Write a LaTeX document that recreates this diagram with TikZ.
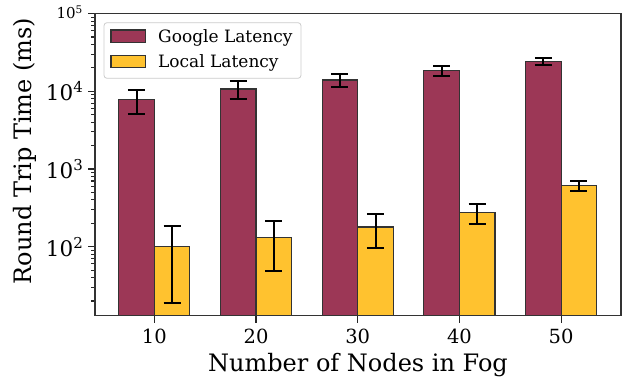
\documentclass[tikz,border=0pt]{standalone}
\usepackage{fontspec}
\setmainfont{DejaVu Serif}
\usetikzlibrary{positioning}
\definecolor{googlered}{RGB}{156,55,86}
\definecolor{localyellow}{RGB}{255,194,47}
\newcommand{\tenpow}[2][15]{10\raisebox{0.37em}{\fontsize{#1}{#1}\selectfont #2}}

\begin{document}
\begin{tikzpicture}[x=1pt,y=1pt]
    \tikzstyle{spine}=[draw=black!80,line width=1.2pt]
    \tikzstyle{tickmark}=[draw=black!85,line width=1.1pt]
    \tikzstyle{googlebar}=[fill=googlered,draw=black!80,line width=1.1pt]
    \tikzstyle{localbar}=[fill=localyellow,draw=black!80,line width=1.1pt]
    \tikzstyle{errbar}=[draw=black,line width=2pt]
    \tikzstyle{ticklabel}=[inner sep=0pt,font=\fontsize{19.5}{19.5}\selectfont]
    \tikzstyle{axislabel}=[inner sep=0pt,font=\fontsize{24}{24}\selectfont]
    \tikzstyle{legendbox}=[draw=black!20,fill=white,fill opacity=0.8,rounded corners=3pt,line width=0.8pt]
    \tikzstyle{legendtext}=[inner sep=0pt,anchor=base west,font=\fontsize{17}{17}\selectfont]
    \useasboundingbox (0,0) rectangle (628,377);
    \begin{scope}[shift={(52.6pt,-25.1pt)},x=101.7pt,y=77.7pt]
        \foreach \i/\g/\glo/\ghi/\l/\llo/\lhi in {1/3.893/3.713/4.013/2.0/1.271/2.262,
                2/4.03/3.906/4.129/2.116/1.691/2.327, 3/4.146/4.055/4.223/2.254/1.983/2.422,
                4/4.266/4.193/4.326/2.444/2.288/2.553, 5/4.382/4.335/4.429/2.786/2.717/2.842}{
            \draw[googlebar] (\i-0.35,1.112) rectangle (\i,\g);
            \draw[localbar] (\i,1.112) rectangle (\i+0.35,\l);
            \draw[errbar] (\i-0.175,\glo) -- (\i-0.175,\ghi)
                (\i-0.259,\glo) -- (\i-0.091,\glo) (\i-0.259,\ghi) -- (\i-0.091,\ghi);
            \draw[errbar] (\i+0.175,\llo) -- (\i+0.175,\lhi)
                (\i+0.091,\llo) -- (\i+0.259,\llo) (\i+0.091,\lhi) -- (\i+0.259,\lhi);
            \draw[tickmark] (\i,1.112) -- ++(0pt,-7pt);
            \pgfmathtruncatemacro\nodes{10*\i}
            \node[ticklabel] (xtick\i) at (\i,1.112) [below=13.5pt] {\nodes};
        }
        \foreach \k in {1,...,4}
            \foreach \m in {2,...,9}
                \draw[tickmark] (0.417,{\k+log10(\m)}) -- ++(-4pt,0pt);
        \foreach \k in {2,3,4,5}
            \draw[tickmark] (0.417,\k) -- ++(-7pt,0pt);
        \foreach \k in {2,3,4}
            \node[ticklabel,font=\fontsize{21.5}{21.5}\selectfont,anchor=base east,xshift=-12pt,yshift=-9.5pt]
                (ytick\k) at (0.417,\k) {\tenpow{\k}};
        \node[ticklabel,font=\fontsize{15}{15}\selectfont,anchor=base east,xshift=-12.5pt,yshift=-5pt]
            (ytick5) at (0.417,5) {\tenpow[10.5]{5}};
        \draw[spine] (0.417,1.112) rectangle (5.589,5);
    \end{scope}
    \draw[legendbox] (104,354.3) rectangle (301,298.7);
    \draw[googlebar] (111,347) rectangle (145.7,334.3);
    \draw[localbar] (111,321.3) rectangle (145.7,309.3);
    \node[legendtext] (googleleg) at (158,334.7) {Google Latency};
    \node[legendtext] (localleg) at (158,309.3) {Local Latency};
    \node[axislabel,anchor=base] (xname) at (358,6) {Number of Nodes in Fog};
    \node[axislabel,anchor=base,rotate=90] (yname) at (31.7,226) {Round Trip Time (ms)};
\end{tikzpicture}
\end{document}
